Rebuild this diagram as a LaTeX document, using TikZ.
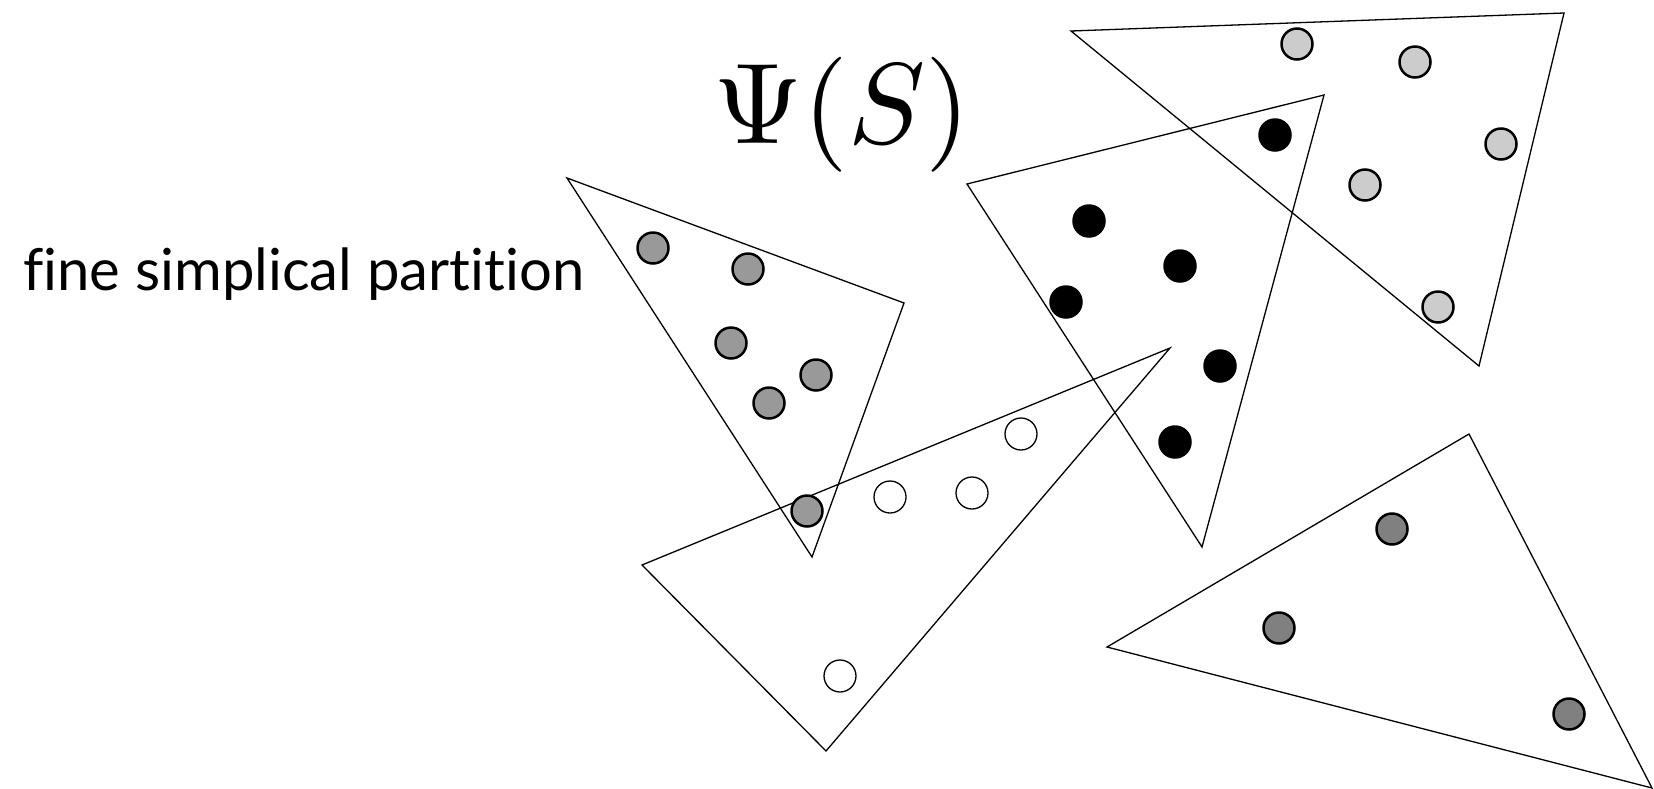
\documentclass[tikz,border=0pt]{standalone}
\usepackage{fontspec}
\usepackage{graphicx}
\newfontfamily\labelfont{Lato}[Ligatures={NoCommon}]
\begin{document}
\begin{tikzpicture}[x=1pt,y=-1pt,
  tri/.style={draw=black,line width=1.3pt,line join=miter},
  dot/.style={circle,draw=black,line width=2.5pt,minimum size=31pt,inner sep=0pt},
  dotA/.style={dot,fill=black!40},
  dotB/.style={dot,fill=black},
  dotC/.style={dot,fill=black!20},
  dotD/.style={circle,draw=black,line width=1.3pt,fill=white,minimum size=32pt,inner sep=0pt},
  dotE/.style={dot,fill=black!50}]
\useasboundingbox (0,0) rectangle (1654,788);
% triangles
\draw[tri] (567,178) -- (904,303) -- (812,557) -- cycle;
\draw[tri] (967,184) -- (1324,95) -- (1202,547) -- cycle;
\draw[tri] (1071,31) -- (1564,13) -- (1479,366) -- cycle;
\draw[tri] (642,565) -- (1170,348) -- (826,751) -- cycle;
\draw[tri] (1469,434) -- (1107,647) -- (1652,788) -- cycle;
% labels
\node[anchor=base west,inner sep=0pt,font=\labelfont\fontsize{58}{60}\selectfont] (lbl) at (23,290) {fine simplical partition};
\node[anchor=base,inner sep=0pt] (psi) at (842,143) {\scalebox{11.5}{$\Psi(S)$}};
% dots A
\node[dotA] (a1) at (653,248) {};
\node[dotA] (a2) at (748,269) {};
\node[dotA] (a3) at (731,343) {};
\node[dotA] (a4) at (816,375) {};
\node[dotA] (a5) at (769,403) {};
% dots B
\node[dotB] (b1) at (1275,135) {};
\node[dotB] (b2) at (1089,221) {};
\node[dotB] (b3) at (1180,266) {};
\node[dotB] (b4) at (1066,302) {};
\node[dotB] (b5) at (1220,366) {};
\node[dotB] (b6) at (1175,442) {};
% dots C
\node[dotC] (c1) at (1297,44) {};
\node[dotC] (c2) at (1415,62) {};
\node[dotC] (c3) at (1501,144) {};
\node[dotC] (c4) at (1365,185) {};
\node[dotC] (c5) at (1438,307) {};
% dots D
\node[dotD] (d1) at (1021,434) {};
\node[dotD] (d2) at (890,497) {};
\node[dotD] (d3) at (972,493) {};
\node[dotD] (d4) at (840,676) {};
\node[dotA] (a6) at (807,511) {};
% dots E
\node[dotE] (e1) at (1392,529) {};
\node[dotE] (e2) at (1279,628) {};
\node[dotE] (e3) at (1569,714) {};
\end{tikzpicture}
\end{document}
